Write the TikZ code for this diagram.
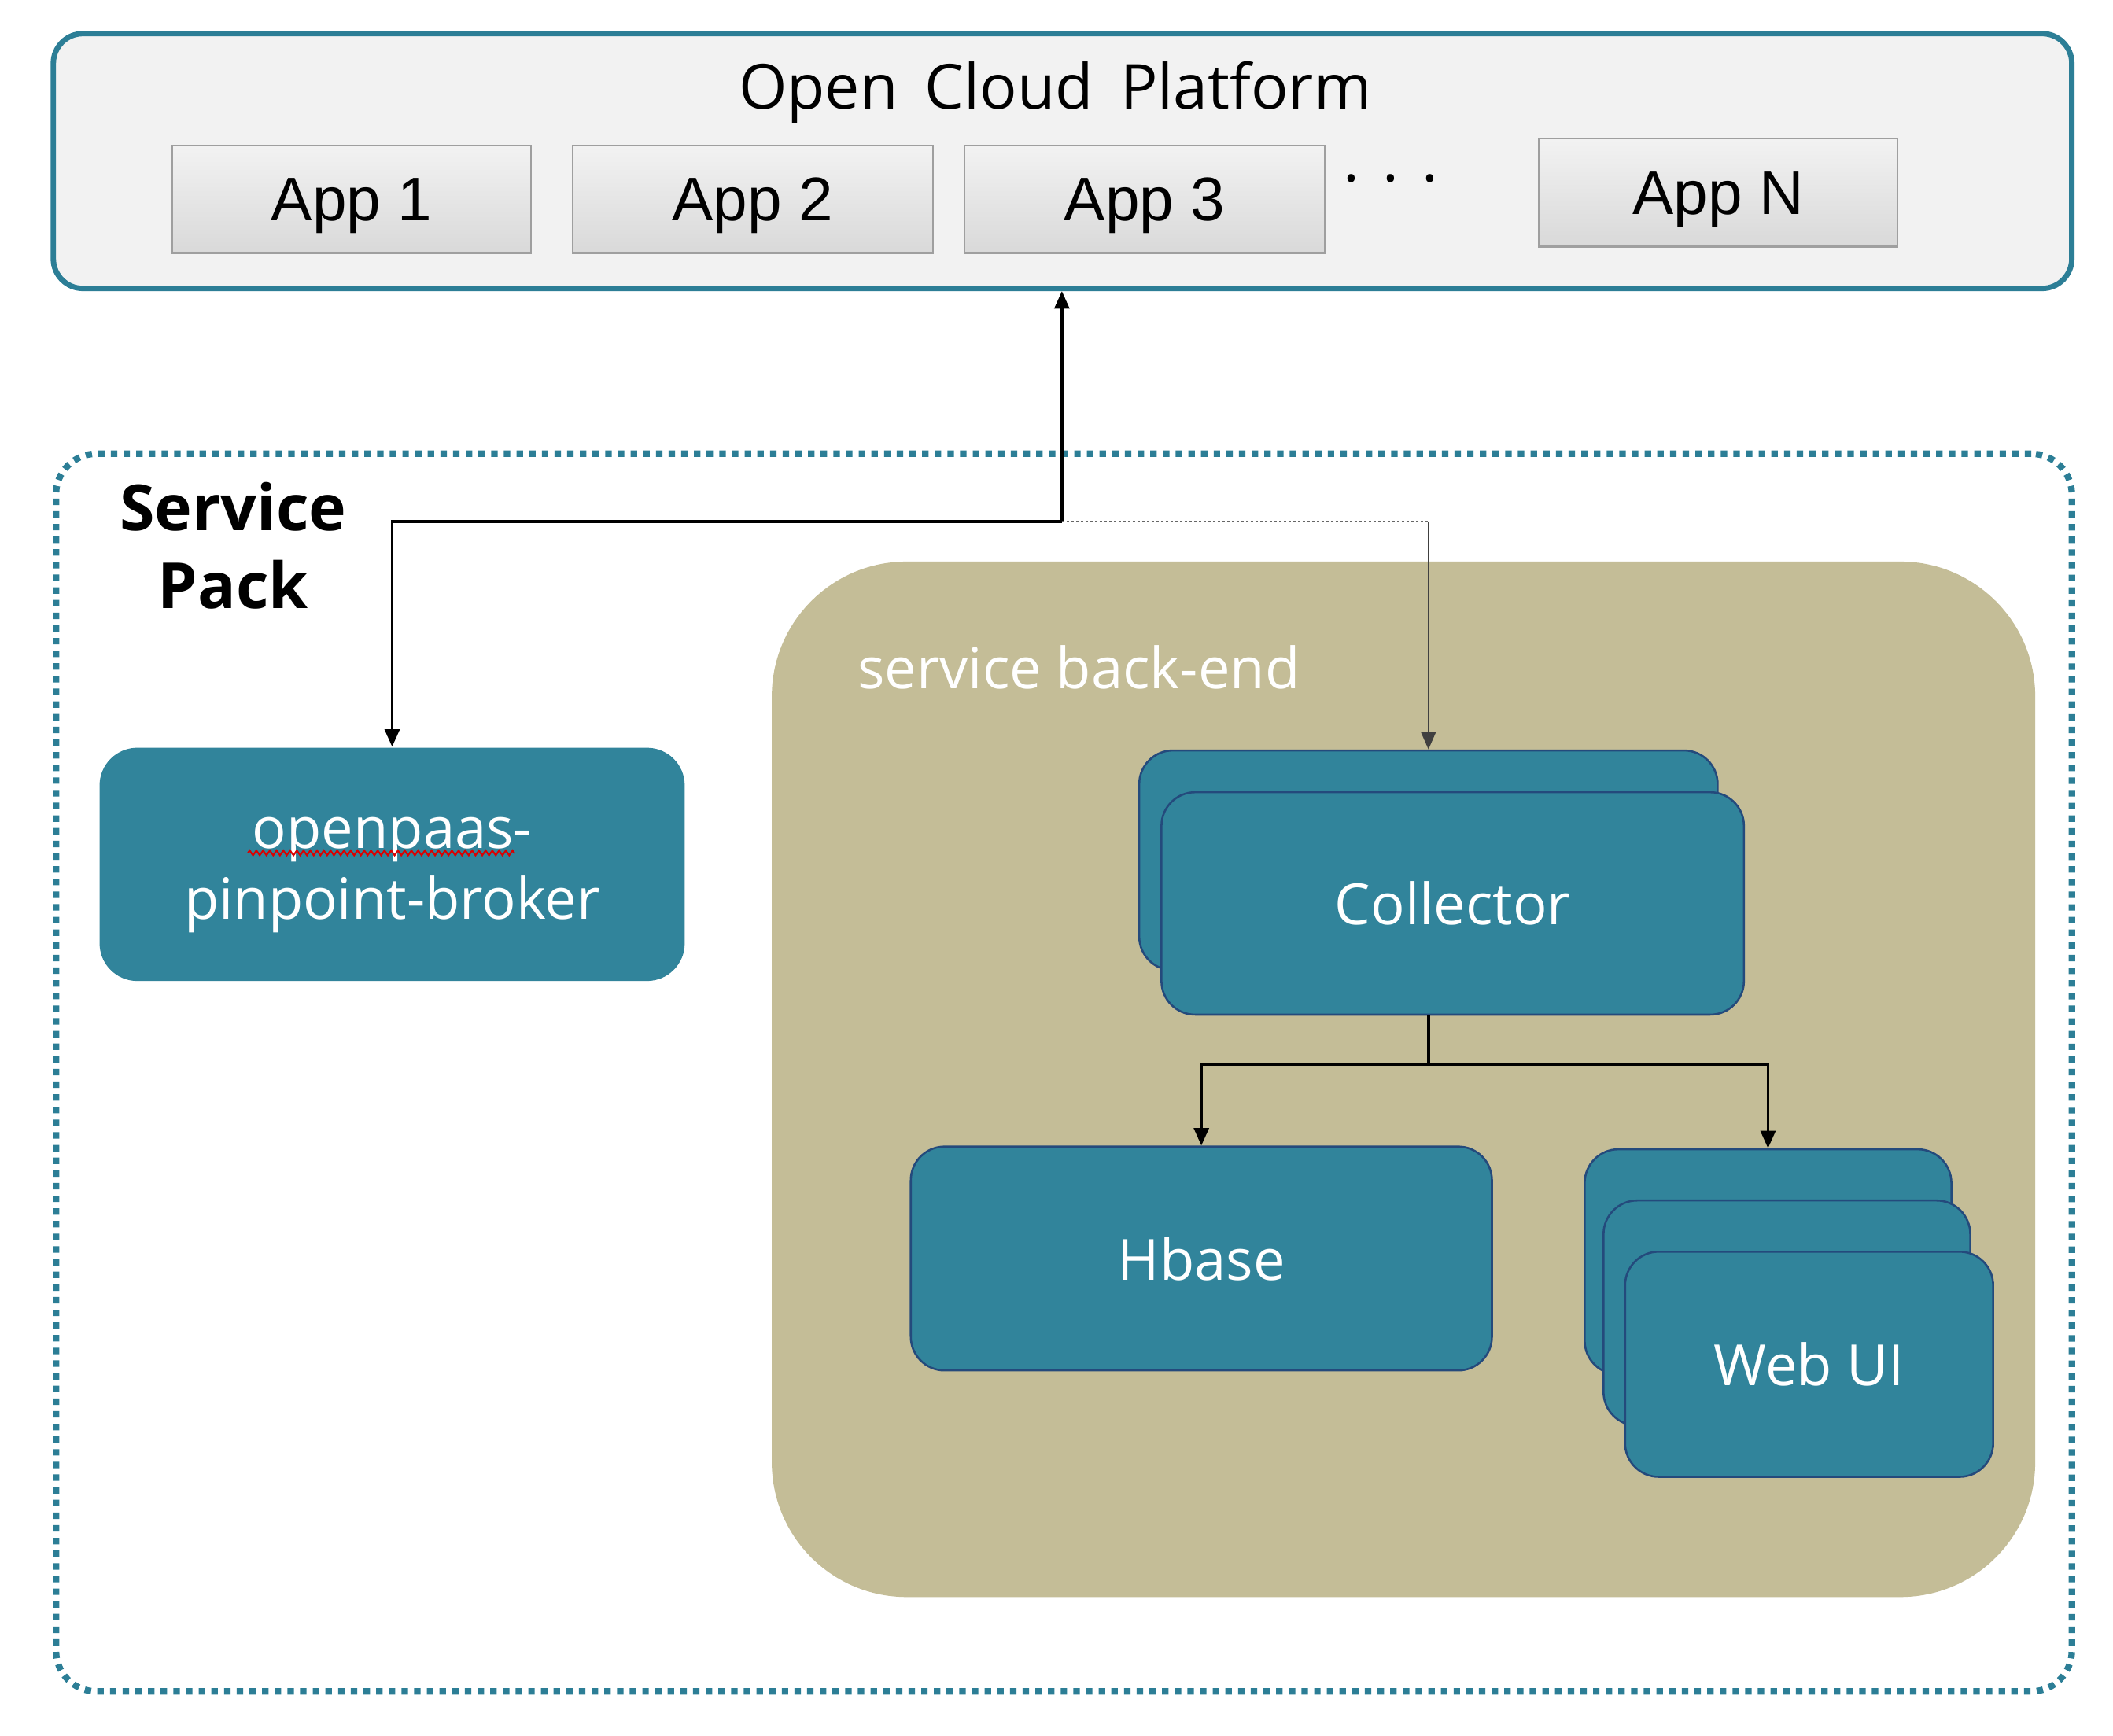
\documentclass[tikz,border=0pt]{standalone}
\usepackage{fontspec}
\setmainfont{Open Sans}
\newfontfamily\appfont{Liberation Sans}
\usetikzlibrary{arrows.meta, decorations.pathmorphing}

\definecolor{tealbox}{RGB}{49,132,155}
\definecolor{tealline}{RGB}{44,126,150}
\definecolor{navyline}{RGB}{36,74,124}
\definecolor{khaki}{RGB}{196,189,151}
\definecolor{paleback}{RGB}{242,242,242}

\begin{document}
\begin{tikzpicture}[x=0.01cm, y=-0.01cm,
    appbox/.style={draw=gray!75, line width=0.012cm, top color=gray!10, bottom color=gray!30, minimum width=2.66cm, minimum height=0.8cm, text height=0.32cm, text depth=0cm, font=\appfont\fontsize{13}{15}\selectfont},
    block/.style={draw=navyline, line width=0.015cm, fill=tealbox, rounded corners=0.25cm, text=white, font=\fontsize{12}{15}\selectfont, align=center},
    arrow/.style={-{Triangle[length=0.13cm, width=0.11cm]}, line width=0.02cm}]

    \path[fill=white, use as bounding box] (0,0) rectangle (1568,1288);

    % Groups
    \node[draw=tealline, line width=0.048cm, dash pattern=on 0.048cm off 0.046cm, rounded corners=0.3cm, minimum width=14.95cm, minimum height=9.18cm] (servicepack) at (789.5,796) {};
    \node[font=\bfseries\fontsize{13.4}{16.3}\selectfont, align=center] (packlabel) at (173,405) {Service\\Pack};
    \node[fill=khaki, rounded corners=1cm, minimum width=9.37cm, minimum height=7.68cm] (backend) at (1041.5,801) {};
    \node[text=white, anchor=west, font=\fontsize{12}{14}\selectfont] (backendlabel) at (624,495) {service back-end};

    \node[draw=tealline, line width=0.04cm, fill=paleback, rounded corners=0.22cm, minimum width=14.97cm, minimum height=1.89cm] (platform) at (788.5,119.5) {};
    \node[font=\fontsize{13.1}{15}\selectfont] (title) at (783,69) {Open\hspace{0.08cm} Cloud\hspace{0.08cm} Platform};

    % Nodes
    \node[appbox] (app1) at (261,148) {App 1};
    \node[appbox, minimum width=2.67cm] (app2) at (558.5,148) {App 2};
    \node[appbox, minimum width=2.67cm] (app3) at (849.5,148) {App 3};
    \node[font=\fontsize{13}{15}\selectfont] (dots) at (1032,139) {·\hspace{0.05cm} ·\hspace{0.05cm} ·};
    \node[appbox] (appn) at (1275,143) {App N};

    \node[block, draw=none, rounded corners=0.28cm, minimum width=4.34cm, minimum height=1.73cm,
        label={[text=white, align=center, font=\fontsize{12}{15}\selectfont, yshift=-0.08cm]center:{openpaas-\\pinpoint-broker}}] (broker) at (291,641.5) {};

    \node[block, minimum width=4.29cm, minimum height=1.63cm] (colback) at (1060,638.5) {};
    \node[block, minimum width=4.32cm, minimum height=1.65cm] (colfront) at (1078,670.5) {Collector};

    \node[block, minimum width=4.31cm, minimum height=1.66cm] (hbase) at (891.5,934) {Hbase};

    \node[block, minimum width=2.72cm, minimum height=1.67cm] (webback) at (1312,936.5) {};
    \node[block, minimum width=2.72cm, minimum height=1.67cm] (webmid) at (1326,974.5) {};
    \node[block, minimum width=2.73cm, minimum height=1.67cm] (webfront) at (1342.5,1012.5) {Web UI};

    % spell-check mark
    \draw[red!85!black, line width=0.012cm, decorate, decoration={zigzag, segment length=0.05cm, amplitude=0.018cm}] (184,633) -- (382,633);

    % Arrows
    \coordinate (jn) at (788,387);
    \coordinate (jc) at (jn -| colback.north);
    \coordinate (split) at (1060,790);
    \draw[arrow] (jn) -- (jn |- platform.south);
    \draw[arrow] (jn) -| (broker.north);
    \draw[gray!80!black, line width=0.012cm, dash pattern=on 0.02cm off 0.015cm] (jn) -- (jc);
    \draw[arrow, line width=0.012cm, black!75] (jc) -- (colback.north);
    \draw[line width=0.02cm] (split |- colfront.south) -- (split);
    \draw[arrow] (split) -| (hbase.north);
    \draw[arrow] (split) -| (webback.north);
\end{tikzpicture}
\end{document}
